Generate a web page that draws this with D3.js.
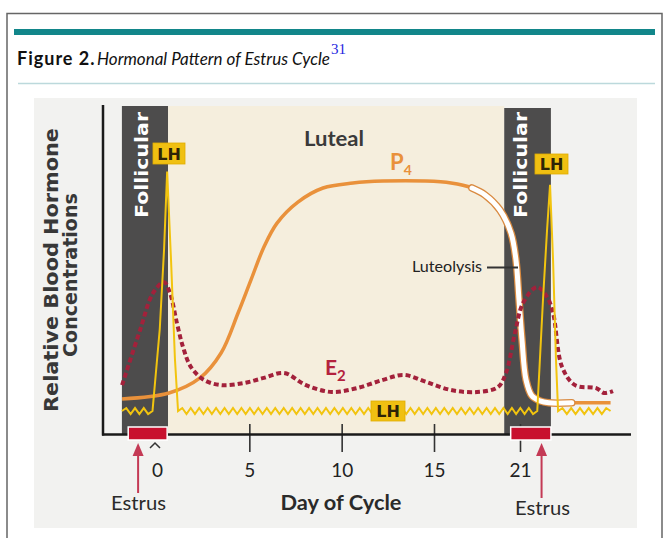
<!DOCTYPE html>
<html><head><meta charset="utf-8">
<script src="https://cdn.jsdelivr.net/npm/d3@7"></script>
<style>html,body{margin:0;padding:0;background:#fff;}svg{display:block;}</style>
</head><body>
<svg id="chart" width="665" height="538"></svg>
<script>
// ---------------- DATA ----------------
const tickDays = [0, 5, 10, 15, 21];
const tickLabels = ["0", "5", "10", "15", "21"];

const phaseNames = ["Follicular", "Luteal", "Follicular"];
const phaseStart = [-1.95, 0.6, 19.9];
const phaseEnd   = [0.6, 19.9, 23.15];

const estrusStart = [-1.6, 20.35];
const estrusEnd   = [0.55, 23.15];
const estrusArrowDay = [-1.05, 22.5];

// Progesterone (P4)
const p4Days = [-1.94, 0.65, 2.33, 3.47, 4.39, 5.09, 5.79, 6.5, 7.63, 8.99, 10.61, 12.24, 14.56, 16.19, 17.65, 18.56, 19.6, 20.37, 20.72, 20.93, 21.14, 21.42, 21.83, 22.39, 23.0, 24.6, 27.3];
const p4Vals = [10.7, 12.5, 17.1, 24.7, 36.9, 47.0, 57.0, 64.3, 70.7, 75.0, 76.5, 77.1, 77.1, 76.5, 75.0, 72.9, 68.3, 61.3, 53.0, 40.9, 28.7, 16.5, 11.6, 10.1, 9.5, 9.5, 9.5];
const luteolysisStart = 17.65, luteolysisEnd = 24.6;

// Estradiol (E2)
const e2Days = [-1.94, -0.94, -0.22, 0.38, 0.7, 1.08, 1.41, 1.84, 2.54, 3.47, 4.66, 5.79, 6.88, 8.07, 9.47, 10.83, 12.24, 13.37, 14.56, 16.19, 18.0, 19.46, 20.02, 20.65, 21.21, 22.18, 22.88, 23.3, 23.93, 24.83, 26.3, 26.85, 27.47];
const e2Vals = [14.9, 31.7, 43.0, 46.3, 43.0, 33.8, 26.5, 20.4, 16.5, 14.9, 15.5, 17.1, 18.6, 14.9, 12.8, 14.0, 16.5, 18.0, 15.9, 13.4, 12.8, 14.3, 18.6, 30.8, 39.9, 44.8, 41.8, 36.9, 20.4, 14.9, 14.0, 12.5, 13.1];

// Luteinizing hormone (LH)
const lhDays = [-1.95, -0.25, 0.15, 0.38, 0.55, 0.76, 0.97, 1.14, 22.2, 22.6, 22.88, 23.09, 23.3, 23.5, 23.65, 27.3];
const lhVals = [7, 7, 32, 56, 80, 53, 23, 7, 7, 41, 62, 76, 53, 23, 7, 7];

// ---------------- DRAW ----------------
const svg = d3.select("#chart");
const x = d3.scaleLinear().domain([-3, 0, 15, 21, 29]).range([103, 157, 434, 520, 635]);
const y = d3.scaleLinear().domain([0, 100]).range([434, 106]);

const C = {
  teal: "#12868a", band: "#4d4c4c", beige: "#f5eedd", photo: "#f2f2f0",
  p4: "#e9913b", e2: "#a3213b", lh: "#f2c40f", lhBox: "#f0c012",
  estrus: "#c8102e", arrow: "#c43a55", ink: "#2a2a2a"
};

// frame and title
svg.append("path").attr("d", "M7,538V13.5H662V538").attr("fill", "none").attr("stroke", "#666").attr("stroke-width", 1.5);
svg.append("rect").attr("x", 14).attr("y", 29).attr("width", 641).attr("height", 6).attr("fill", C.teal);
const title = svg.append("text").attr("x", 17).attr("y", 65).attr("font-family", "Lato").attr("font-size", 18).attr("fill", "#111");
title.append("tspan").attr("font-weight", 700).attr("letter-spacing", 1).text("Figure 2.");
title.append("tspan").attr("x", 97).attr("font-style", "italic").attr("font-size", 17).attr("letter-spacing", 0).text("Hormonal Pattern of Estrus Cycle");
title.append("tspan").attr("dx", 1).attr("dy", -11).attr("font-family", "Liberation Serif").attr("font-size", 15).attr("fill", "#1f1fe0").text("31");
svg.append("line").attr("x1", 18).attr("x2", 655).attr("y1", 83.5).attr("y2", 83.5).attr("stroke", "#bcd9dc").attr("stroke-width", 1.5);

// photo background
svg.append("rect").attr("x", 34).attr("y", 98).attr("width", 603).attr("height", 430).attr("fill", C.photo);

// phases
const phases = phaseNames.map((n, i) => ({ name: n, s: phaseStart[i], e: phaseEnd[i] }));
svg.append("g").selectAll("rect").data(phases).join("rect")
  .attr("x", d => x(d.s)).attr("width", d => x(d.e) - x(d.s))
  .attr("y", (d, i) => i === 2 ? 108 : 106).attr("height", (d, i) => 434 - (i === 2 ? 108 : 106))
  .attr("fill", d => d.name === "Luteal" ? C.beige : C.band);

// follicular labels
phases.filter(d => d.name === "Follicular").forEach((d, i) => {
  const bx = x(d.s) + (i === 0 ? 26 : 23);
  svg.append("text").attr("transform", `translate(${bx},${165}) rotate(-90)`)
    .attr("text-anchor", "middle").attr("font-family", "DejaVu Sans").attr("font-weight", 700).attr("font-size", 18.5)
    .attr("fill", "#fff").attr("textLength", 106).attr("lengthAdjust", "spacingAndGlyphs").text(d.name);
});
// luteal label
svg.append("text").attr("x", 334).attr("y", 146).attr("text-anchor", "middle").attr("font-family", "Lato").attr("font-weight", 700)
  .attr("font-size", 20).attr("fill", "#3a3a3a").attr("textLength", 60).attr("lengthAdjust", "spacingAndGlyphs").text("Luteal");

// axes
const axG = svg.append("g").attr("transform", "translate(0,424)");
const axis = d3.axisBottom(x).tickValues(tickDays).tickFormat((d, i) => tickLabels[i]).tickSize(28).tickPadding(0);
axG.call(axis);
axG.select(".domain").remove();
axG.selectAll(".tick line").attr("stroke", "#333").attr("stroke-width", 1.6)
  .attr("display", d => d === 0 ? "none" : null);
axG.selectAll(".tick text").attr("y", 53).attr("dy", 0).attr("font-family", "Lato").attr("font-size", 19).attr("fill", "#222");

svg.append("line").attr("x1", 103).attr("x2", 103).attr("y1", 105).attr("y2", 435.5).attr("stroke", "#1a1a1a").attr("stroke-width", 2.5);
svg.append("line").attr("x1", 102).attr("x2", 631).attr("y1", 434.5).attr("y2", 434.5).attr("stroke", "#1a1a1a").attr("stroke-width", 2.5);
// caret at day 0
const x0 = x(0) - 2;
svg.append("path").attr("d", `M${x0 - 5},448L${x0},443L${x0 + 5},448`).attr("fill", "none").attr("stroke", "#333").attr("stroke-width", 1.5);

// y label
const yl = svg.append("g").attr("font-family", "DejaVu Sans").attr("font-weight", 700).attr("fill", "#383838").attr("font-size", 19);
yl.append("text").attr("transform", "translate(58,270) rotate(-90)").attr("text-anchor", "middle")
  .attr("textLength", 284).attr("lengthAdjust", "spacingAndGlyphs").text("Relative Blood Hormone");
yl.append("text").attr("transform", "translate(77,275) rotate(-90)").attr("text-anchor", "middle")
  .attr("textLength", 164).attr("lengthAdjust", "spacingAndGlyphs").text("Concentrations");

// curves
const p4 = p4Days.map((d, i) => [d, p4Vals[i]]);
const e2 = e2Days.map((d, i) => [d, e2Vals[i]]);
const lh = lhDays.map((d, i) => [d, lhVals[i]]);
const line = d3.line().x(d => x(d[0])).y(d => y(d[1])).curve(d3.curveCatmullRom.alpha(0.5));

svg.append("path").attr("d", line(p4)).attr("fill", "none").attr("stroke", C.p4).attr("stroke-width", 3.5);
const tube = p4.filter(d => d[0] >= luteolysisStart && d[0] <= luteolysisEnd);
svg.append("path").attr("d", line(tube)).attr("fill", "none").attr("stroke", "#d98a40").attr("stroke-width", 7.5).attr("stroke-linecap", "round");
svg.append("path").attr("d", line(tube)).attr("fill", "none").attr("stroke", "#fff").attr("stroke-width", 5).attr("stroke-linecap", "round");

svg.append("path").attr("d", line(e2)).attr("fill", "none").attr("stroke", C.e2).attr("stroke-width", 4)
  .attr("stroke-dasharray", "5,3");

function zigzag(pts, period, amp) {
  let d = `M${pts[0][0]},${pts[0][1]}`;
  for (let i = 1; i < pts.length; i++) {
    const [xa, ya] = pts[i - 1], [xb, yb] = pts[i];
    const dx = xb - xa, dy = yb - ya, len = Math.hypot(dx, dy);
    if (Math.abs(dy) > 0.3 * Math.abs(dx) || len < period) { d += `L${xb},${yb}`; continue; }
    const n = Math.max(1, Math.round(len / (period / 2)));
    const nx = -dy / len, ny = dx / len;
    for (let k = 1; k < n; k++) {
      const t = k / n, s = (k % 2 ? -1 : 1) * amp;
      d += `L${(xa + dx * t + nx * s).toFixed(2)},${(ya + dy * t + ny * s).toFixed(2)}`;
    }
    d += `L${xb},${yb}`;
  }
  return d;
}
svg.append("path").attr("d", zigzag(lh.map(d => [x(d[0]), y(d[1])]), 8.5, 3))
  .attr("fill", "none").attr("stroke", C.lh).attr("stroke-width", 2).attr("stroke-linejoin", "miter");

// estrus bars + arrows
estrusStart.forEach((s, i) => {
  svg.append("rect").attr("x", x(s)).attr("width", x(estrusEnd[i]) - x(s)).attr("y", 427).attr("height", 13)
    .attr("fill", C.estrus).attr("stroke", "#fff").attr("stroke-width", 1.5);
  const ax = x(estrusArrowDay[i]);
  const yb = i === 0 ? 493 : 498;
  svg.append("line").attr("x1", ax).attr("x2", ax).attr("y1", 452).attr("y2", yb).attr("stroke", C.arrow).attr("stroke-width", 2);
  svg.append("path").attr("d", `M${ax},443L${ax - 5.5},456L${ax + 5.5},456Z`).attr("fill", C.arrow);
  svg.append("text").attr("x", i === 0 ? 138.5 : 542.5).attr("y", i === 0 ? 510 : 515).attr("text-anchor", "middle")
    .attr("font-family", "Lato").attr("font-size", 19).attr("fill", "#2a2a2a")
    .attr("textLength", 55).attr("lengthAdjust", "spacingAndGlyphs").text("Estrus");
});
svg.append("text").attr("x", 341).attr("y", 510).attr("text-anchor", "middle").attr("font-family", "Lato").attr("font-weight", 700)
  .attr("font-size", 21).attr("fill", "#2a2a2a").attr("textLength", 121).attr("lengthAdjust", "spacingAndGlyphs").text("Day of Cycle");

// LH boxes
[[153, 143, 32, 21], [535, 154, 33, 20], [371, 401, 34, 20]].forEach(b => {
  svg.append("rect").attr("x", b[0]).attr("y", b[1]).attr("width", b[2]).attr("height", b[3]).attr("fill", C.lhBox).attr("stroke", "#e0ad00").attr("stroke-width", 0.8);
  svg.append("text").attr("x", b[0] + b[2] / 2).attr("y", b[1] + b[3] / 2 + 6).attr("text-anchor", "middle")
    .attr("font-family", "DejaVu Sans").attr("font-weight", 700).attr("font-size", 16).attr("fill", "#2e2406").text("LH");
});

// hormone labels
const p4t = svg.append("text").attr("x", 390).attr("y", 170).attr("font-family", "Lato").attr("font-weight", 700).attr("font-size", 22).attr("fill", C.p4);
p4t.append("tspan").text("P");
p4t.append("tspan").attr("dy", 5).attr("font-size", 14).text("4");
const e2t = svg.append("text").attr("x", 325).attr("y", 375).attr("font-family", "Lato").attr("font-weight", 700).attr("font-size", 21).attr("fill", "#b3223d");
e2t.append("tspan").text("E");
e2t.append("tspan").attr("dy", 6).attr("font-size", 15).text("2");

// luteolysis annotation
svg.append("text").attr("x", 412).attr("y", 272).attr("font-family", "Lato").attr("font-size", 15).attr("fill", "#222")
  .attr("textLength", 70).attr("lengthAdjust", "spacingAndGlyphs").text("Luteolysis");
svg.append("line").attr("x1", 487).attr("x2", 518).attr("y1", 267.5).attr("y2", 267.5).attr("stroke", "#333").attr("stroke-width", 2);
</script>
</body></html>
